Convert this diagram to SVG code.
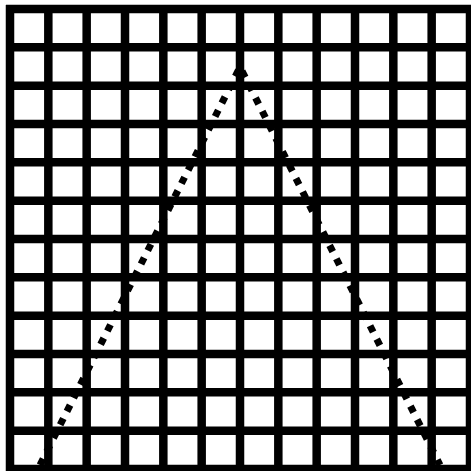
<svg xmlns="http://www.w3.org/2000/svg" width="471" height="471" viewBox="0 0 471 471">
<style>
.grid line{stroke:#000;stroke-width:8.5}
.tri{fill:none;stroke:#000;stroke-width:7;stroke-dasharray:7 8;stroke-linejoin:bevel}
</style>
<rect width="471" height="471" fill="#fff"/>
<g class="grid">
<line x1="10" y1="5" x2="10" y2="471"/>
<line x1="48.33" y1="5" x2="48.33" y2="471"/>
<line x1="86.67" y1="5" x2="86.67" y2="471"/>
<line x1="125" y1="5" x2="125" y2="471"/>
<line x1="163.33" y1="5" x2="163.33" y2="471"/>
<line x1="201.67" y1="5" x2="201.67" y2="471"/>
<line x1="240" y1="5" x2="240" y2="471"/>
<line x1="278.33" y1="5" x2="278.33" y2="471"/>
<line x1="316.67" y1="5" x2="316.67" y2="471"/>
<line x1="355" y1="5" x2="355" y2="471"/>
<line x1="393.33" y1="5" x2="393.33" y2="471"/>
<line x1="431.67" y1="5" x2="431.67" y2="471"/>
<line x1="470" y1="5" x2="470" y2="471"/>
<line x1="6" y1="9" x2="471" y2="9"/>
<line x1="6" y1="47.33" x2="471" y2="47.33"/>
<line x1="6" y1="85.67" x2="471" y2="85.67"/>
<line x1="6" y1="124" x2="471" y2="124"/>
<line x1="6" y1="162.33" x2="471" y2="162.33"/>
<line x1="6" y1="200.67" x2="471" y2="200.67"/>
<line x1="6" y1="239" x2="471" y2="239"/>
<line x1="6" y1="277.33" x2="471" y2="277.33"/>
<line x1="6" y1="315.67" x2="471" y2="315.67"/>
<line x1="6" y1="354" x2="471" y2="354"/>
<line x1="6" y1="392.33" x2="471" y2="392.33"/>
<line x1="6" y1="430.67" x2="471" y2="430.67"/>
<line x1="6" y1="469" x2="471" y2="469"/>
</g>
<polyline class="tri" points="40,465 240,67 440,465"/>
</svg>
